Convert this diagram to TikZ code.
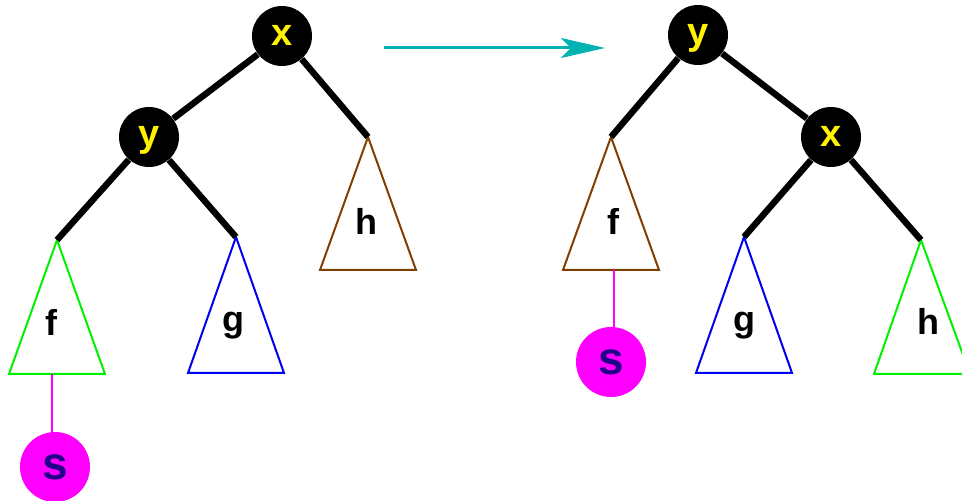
\documentclass[tikz,border=0pt]{standalone}
\usepackage{fontspec}
\setmainfont{Liberation Sans}
\usetikzlibrary{arrows.meta}
\definecolor{cteal}{HTML}{00B2B2}
\definecolor{cbrown}{HTML}{7F3F00}
\definecolor{cgreen}{HTML}{00F000}
\definecolor{cblue}{HTML}{0000F0}
\definecolor{cmag}{HTML}{FF00FF}
\definecolor{cnavy}{HTML}{22008A}
\tikzset{
  every picture/.style={x=0.5pt, y=-0.5pt},
  key/.style={circle, fill=black, inner sep=0pt, minimum size=30pt, text=yellow, text height=10pt, text depth=0pt, font=\fontsize{19}{19}\selectfont\bfseries},
  sub/.style={draw=#1, line width=1pt, line join=miter},
  label/.style={font=\fontsize{18}{18}\selectfont\bfseries},
  spot/.style={circle, fill=cmag, inner sep=0pt, minimum size=35pt, text=cnavy, font=\fontsize{23}{23}\selectfont\bfseries},
  edge/.style={line width=3.2pt},
  tie/.style={draw=cmag, line width=1pt},
  arrow/.style={-{Stealth[length=22pt, width=10pt, inset=5pt]}, draw=cteal, line width=1.5pt},
}
\begin{document}
\begin{tikzpicture}
  \useasboundingbox (0,0) rectangle (962,501);
  \clip (0,0) rectangle (962,501);
  % left tree
  \node[key] (x1) at (282,36) {x};
  \node[key] (y1) at (149,137) {y};
  \coordinate (f1) at (57,240);
  \coordinate (g1) at (236,237);
  \coordinate (h1) at (368,137);
  \draw[sub=cgreen] (f1) -- ++(-48,134) -- ++(96,0) -- cycle;
  \draw[sub=cblue] (g1) -- ++(-48,136) -- ++(96,0) -- cycle;
  \draw[sub=cbrown] (h1) -- ++(-48,133) -- ++(96,0) -- cycle;
  \node[label] (fl1) at (51,322) {f};
  \node[label] (gl1) at (233,326) {g};
  \node[label] (hl1) at (366,221) {h};
  \draw[edge] (x1) -- (y1);
  \draw[edge] (x1) -- (h1);
  \draw[edge] (y1) -- (f1);
  \draw[edge] (y1) -- (g1);
  \coordinate (fb1) at (52,374);
  \node[spot] (s1) at (55,467) {s};
  \draw[tie] (fb1) -- (fb1 |- s1.north);
  % rotation arrow
  \coordinate (a) at (384,48);
  \coordinate (b) at (605,48);
  \draw[arrow] (a) -- (b);
  % right tree
  \node[key] (y2) at (698,35) {y};
  \node[key] (x2) at (831,137) {x};
  \coordinate (f2) at (611,137);
  \coordinate (g2) at (744,237);
  \coordinate (h2) at (921,240);
  \draw[sub=cbrown] (f2) -- ++(-48,133) -- ++(96,0) -- cycle;
  \draw[sub=cblue] (g2) -- ++(-48,136) -- ++(96,0) -- cycle;
  \draw[sub=cgreen] (h2) -- ++(-47,134) -- ++(96,0) -- cycle;
  \node[label] (fl2) at (613,221) {f};
  \node[label] (gl2) at (744,326) {g};
  \node[label] (hl2) at (928,321) {h};
  \draw[edge] (y2) -- (x2);
  \draw[edge] (y2) -- (f2);
  \draw[edge] (x2) -- (g2);
  \draw[edge] (x2) -- (h2);
  \coordinate (fb2) at (614,270);
  \node[spot] (s2) at (611,362) {s};
  \draw[tie] (fb2) -- (fb2 |- s2.north);
\end{tikzpicture}
\end{document}
